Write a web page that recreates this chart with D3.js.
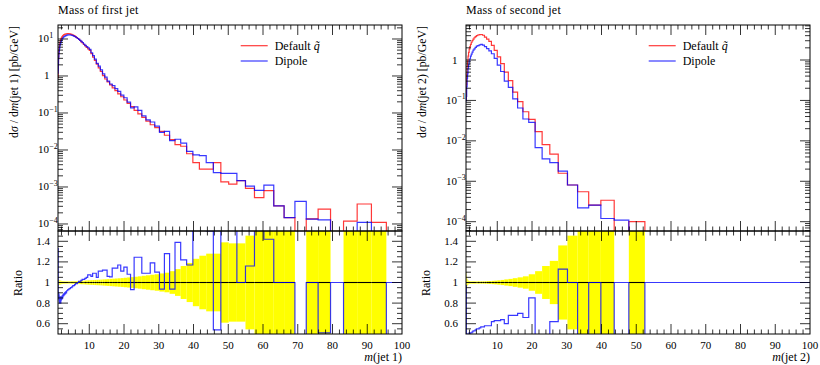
<!DOCTYPE html>
<html><head><meta charset="utf-8">
<script src="https://cdn.jsdelivr.net/npm/d3@7"></script>
<style>
body{margin:0;background:#fff}
</style>
</head><body>
<svg id="c" width="820" height="365" font-family="'Liberation Serif', 'DejaVu Serif', serif"></svg>
<script>
// ---------- DATA ----------
// jet 1 : 100 log bins 1..100 GeV ; jet 2 : 50 log bins 1..100 GeV
const jet1Bins = {n: 100, lo: 1, hi: 100};
const jet2Bins = {n: 50, lo: 1, hi: 100};

const jet1Default = [
 0.9,1.6,2.4,3.2,4.0,4.8,5.6,6.3,7.0,7.7,
 8.3,8.9,9.4,9.9,10.4,10.8,11.2,11.6,12.0,12.3,
 12.6,12.9,13.1,13.3,13.5,13.6,13.7,13.8,13.9,13.9,
 13.9,13.8,13.7,13.5,13.3,13.0,12.7,12.3,11.9,11.4,
 10.9,10.3,9.7,9.1,8.4,7.8,7.1,6.5,5.9,5.4,
 4.9,4.0,3.24,2.63,2.09,1.66,1.32,1.02,0.83,0.69,
 0.575,0.48,0.40,0.33,0.275,0.224,0.182,0.148,0.117,0.095,
 0.076,0.060,0.048,0.040,0.032,0.025,0.019,0.014,0.0126,0.0079,
 0.00457,0.00302,0.00302,0.00457,0.00138,0.0012,0.00148,0.000912,0.000513,0.000794,
 0.000309,0.000148,null,0.000138,0.000251,null,0.00012,0.000347,0.00011,null];

const jet1Dipole = [
 1.2,1.41,2.06,2.88,3.36,4.22,4.59,5.42,5.6,6.55,
 6.81,7.65,7.52,8.32,8.63,9.29,9.41,10.09,10.2,10.82,
 10.96,11.48,11.53,11.97,12.02,12.38,12.33,12.7,12.79,12.93,
 12.93,12.97,12.88,12.83,12.64,12.48,12.32,11.93,11.66,11.29,
 10.79,10.3,9.8,9.19,8.57,8.03,7.31,6.76,6.2,5.8,
 5.27,4.24,3.53,2.87,2.19,1.84,1.47,1.14,0.93,0.73,
 0.607,0.547,0.456,0.386,0.305,0.258,0.197,0.138,0.146,0.118,
 0.083,0.065,0.057,0.044,0.030,0.032,0.0178,0.0195,0.0154,0.0092,
 0.00733,0.00703,0.00457,0.00245,0.00234,0.00234,0.00148,0.00105,0.00081,0.00112,
 0.000309,0.000148,0.000407,0.000135,0.000129,null,null,0.00011,null,null];

const jet1Ratio = [
 1.33,0.88,0.86,0.90,0.84,0.88,0.82,0.86,0.80,0.85,
 0.82,0.86,0.80,0.84,0.83,0.86,0.84,0.87,0.85,0.88,
 0.87,0.89,0.88,0.90,0.89,0.91,0.90,0.92,0.92,0.93,
 0.93,0.94,0.94,0.95,0.95,0.96,0.97,0.97,0.98,0.99,
 0.99,1.00,1.01,1.01,1.02,1.03,1.03,1.04,1.05,1.075,
 1.075,1.06,1.09,1.09,1.05,1.11,1.11,1.12,1.12,1.06,
 1.055,1.14,1.14,1.17,1.11,1.15,1.08,0.93,1.245,1.245,
 1.09,1.09,1.19,1.10,0.935,1.28,0.935,1.39,1.22,1.17,
 1.6,2.3,1.5,0.54,1.68,1.9,1.0,1.16,1.6,1.42,
 1.0,1.0,0,1.0,0.51,1,0,0.32,0,1];

const jet1Err = [
 0.04,0.035,0.03,0.03,0.028,0.026,0.025,0.024,0.023,0.022,
 0.021,0.02,0.019,0.018,0.017,0.016,0.015,0.014,0.014,0.013,
 0.013,0.012,0.012,0.012,0.011,0.011,0.011,0.011,0.011,0.011,
 0.011,0.011,0.011,0.011,0.012,0.012,0.012,0.013,0.013,0.014,
 0.014,0.015,0.015,0.016,0.017,0.017,0.018,0.019,0.02,0.021,
 0.022,0.023,0.024,0.025,0.026,0.027,0.028,0.03,0.031,0.033,
 0.035,0.037,0.039,0.041,0.043,0.046,0.049,0.052,0.056,0.06,
 0.065,0.07,0.075,0.08,0.088,0.095,0.11,0.13,0.16,0.19,
 0.23,0.26,0.28,0.28,0.39,0.38,0.38,0.455,0.55,0.55,
 0.7,0.7,null,0.7,0.7,null,0.7,0.7,0.7,null];

const jet2Default = [
 0.1,0.25,0.45,0.7,0.95,1.25,1.55,1.85,2.15,2.45,
 2.75,3.0,3.3,3.55,3.8,4.0,4.15,4.25,4.27,4.1,
 3.7,3.3,2.9,2.3,1.74,1.19,0.81,0.50,0.31,0.16,
 0.093,0.0525,0.0339,0.017,0.0081,0.0047,0.00158,0.00081,0.00055,0.000257,
 0.000339,null,0.0001,null,null,null,null,null,null,null];

const jet2Dipole = [
 0.097,0.125,0.22,0.35,0.456,0.625,0.775,0.944,1.075,1.25,
 1.40,1.56,1.75,1.88,2.05,2.2,2.28,2.38,2.43,2.34,
 2.15,1.91,1.68,1.43,1.10,0.75,0.52,0.30,0.21,0.109,
 0.065,0.0347,0.0288,0.0068,0.0036,0.0029,0.00179,0.00081,0.00022,0.000257,
 0.00012,0.00011,null,null,null,null,null,null,null,null];

const jet2Ratio = [
 0.97,0.5,0.49,0.5,0.48,0.5,0.5,0.51,0.5,0.51,
 0.51,0.52,0.53,0.53,0.54,0.55,0.55,0.56,0.57,0.57,
 0.58,0.58,0.58,0.62,0.63,0.63,0.64,0.60,0.68,0.68,
 0.70,0.66,0.85,0.4,0.45,0.62,1.13,1.0,0.4,1.0,
 0.35,1,0,1,1,1,1,1,1,1];

const jet2Err = [
 0.1,0.07,0.05,0.035,0.025,0.02,0.016,0.014,0.013,0.012,
 0.011,0.011,0.011,0.011,0.011,0.011,0.011,0.011,0.011,0.011,
 0.012,0.013,0.014,0.016,0.018,0.021,0.025,0.03,0.035,0.042,
 0.05,0.06,0.08,0.11,0.16,0.21,0.36,0.455,0.55,0.7,
 0.7,null,0.7,null,null,null,null,null,null,null];

const xTickLabels = [10,20,30,40,50,60,70,80,90,100];
const ratioTickLabels = [0.6,0.8,1,1.2,1.4];
const legendLabels = ["Default", "Dipole"];
const seriesColors = ["#ff0000", "#0000ff"];

// ---------- DRAW ----------
const svg = d3.select("#c");
svg.append("rect").attr("width",820).attr("height",365).attr("fill","#fff");

function edgesOf(b){ return d3.range(b.n+1).map(i => b.lo*Math.pow(b.hi/b.lo, i/b.n)); }

const TOP = 25, MID = 231, BOT = 334;
const FONT = "'Liberation Serif', 'DejaVu Serif', serif";

function panel(cfg){
  const {x0, x1, title, jetNo, bins, def, dip, ratio, err, yLo, yHi, decades, id} = cfg;
  const edges = edgesOf(bins);
  const x = d3.scaleLinear().domain([1,100]).range([x0,x1]);
  const y = d3.scaleLog().domain([yLo,yHi]).range([MID,TOP]);
  const yr = d3.scaleLinear().domain([0.5,1.5]).range([BOT,MID]);
  const g = svg.append("g").attr("font-family", FONT).attr("fill","#000");
  const defs = svg.append("defs");
  defs.append("clipPath").attr("id","ct"+id).append("rect")
    .attr("x",x0).attr("y",TOP).attr("width",x1-x0).attr("height",MID-TOP);
  defs.append("clipPath").attr("id","cr"+id).append("rect")
    .attr("x",x0).attr("y",MID).attr("width",x1-x0).attr("height",BOT-MID);

  function stepPath(vals, ys, below){
    const pts = [];
    vals.forEach((v,i) => {
      const yy = (v===null || v<=0) ? below : ys(v);
      pts.push([x(edges[i]), yy],[x(edges[i+1]), yy]);
    });
    return d3.line()(pts);
  }

  const gr = g.append("g").attr("clip-path","url(#cr"+id+")");
  err.forEach((e,i) => {
    if(e===null) return;
    const ya = yr(1+e), yb = yr(1-e);
    gr.append("rect").attr("x",x(edges[i])).attr("width",x(edges[i+1])-x(edges[i]))
      .attr("y",ya).attr("height",yb-ya).attr("fill","#ffff00");
  });
  err.forEach((e,i) => {
    if(e===null) return;
    gr.append("line").attr("x1",x(edges[i])).attr("x2",x(edges[i+1]))
      .attr("y1",yr(1)).attr("y2",yr(1)).attr("stroke","#000").attr("stroke-width",1.1);
  });
  gr.append("path").attr("d", stepPath(ratio, yr, BOT+20))
    .attr("fill","none").attr("stroke",seriesColors[1]).attr("stroke-width",1.2).attr("stroke-opacity",0.78);

  const gt = g.append("g").attr("clip-path","url(#ct"+id+")");
  [def, dip].forEach((vals,si) => {
    gt.append("path").attr("d", stepPath(vals, y, MID+20))
      .attr("fill","none").attr("stroke",seriesColors[si]).attr("stroke-width",1.2).attr("stroke-opacity",0.78);
  });

  [[TOP,MID],[MID,BOT]].forEach(([a,b]) => {
    g.append("rect").attr("x",x0).attr("y",a).attr("width",x1-x0).attr("height",b-a)
      .attr("fill","none").attr("stroke","#000").attr("stroke-width",1);
  });

  const tk = g.append("g").attr("stroke","#000").attr("stroke-width",0.8);
  function vtick(px, ybase, len){ tk.append("line").attr("x1",px).attr("x2",px).attr("y1",ybase).attr("y2",ybase+len); }
  function htick(py, xbase, len){ tk.append("line").attr("y1",py).attr("y2",py).attr("x1",xbase).attr("x2",xbase+len); }

  d3.range(2,100,2).forEach(v => {
    const major = v % 10 === 0;
    const L = major ? 10 : 4.5;
    const px = x(v);
    vtick(px, TOP, L); vtick(px, MID, -L); vtick(px, MID, L); vtick(px, BOT, -L);
  });
  const [dLo, dHi] = decades;
  for(let d=dLo; d<=dHi; d++){
    for(let m=1; m<10; m++){
      const v = m*Math.pow(10,d);
      if(v<yLo || v>yHi) continue;
      const L = m===1 ? 10 : 5;
      htick(y(v), x0, L); htick(y(v), x1, -L);
    }
  }
  d3.range(11,30).forEach(k => {
    const v = k*0.05;
    const major = k % 4 === 0;
    const L = major ? 10 : 5;
    htick(yr(v), x0, L); htick(yr(v), x1, -L);
  });

  xTickLabels.forEach(v => {
    g.append("text").attr("x",x(v)).attr("y",349).attr("text-anchor","middle")
      .attr("font-size",11).text(v);
  });
  for(let d=dLo; d<=dHi; d++){
    const v = Math.pow(10,d);
    if(v<yLo || v>yHi) continue;
    const py = y(v)+3.5;
    if(d===0){
      g.append("text").attr("x",x0-8.5).attr("y",py).attr("text-anchor","end").attr("font-size",11).text("1");
    } else {
      g.append("text").attr("x",x0-9).attr("y",py).attr("text-anchor","end").attr("font-size",11).text("10");
      g.append("text").attr("x",x0-8.7).attr("y",py-4.5).attr("font-size",8)
        .text(d<0 ? "\u2212"+(-d) : String(d));
    }
  }
  ratioTickLabels.forEach(v => {
    g.append("text").attr("x",x0-8).attr("y",yr(v)+3.5).attr("text-anchor","end")
      .attr("font-size",11).text(String(v));
  });

  g.append("text").attr("x",x0).attr("y",14).attr("font-size",12).attr("letter-spacing",0.3).text(title);

  const yl = g.append("text").attr("transform",`translate(${x0-40},${TOP+1}) rotate(-90)`)
    .attr("text-anchor","end").attr("font-size",11.8);
  yl.append("tspan").text("d");
  yl.append("tspan").attr("font-style","italic").text("σ");
  yl.append("tspan").text(" / d");
  yl.append("tspan").attr("font-style","italic").text("m");
  yl.append("tspan").text(`(jet ${jetNo}) [pb/GeV]`);

  g.append("text").attr("transform",`translate(${x0-36},283) rotate(-90)`)
    .attr("text-anchor","middle").attr("font-size",12).text("Ratio");

  const xl = g.append("text").attr("x",x1).attr("y",361).attr("text-anchor","end").attr("font-size",12);
  xl.append("tspan").attr("font-style","italic").text("m");
  xl.append("tspan").text(`(jet ${jetNo})`);

  const lx = x0 + 182.7;
  legendLabels.forEach((lab,i) => {
    const ly = 45.7 + i*15.3;
    g.append("line").attr("x1",lx).attr("x2",lx+27).attr("y1",ly).attr("y2",ly)
      .attr("stroke",seriesColors[i]).attr("stroke-width",1.2).attr("stroke-opacity",0.78);
    const t = g.append("text").attr("x",lx+34).attr("y",ly+3.8).attr("font-size",12);
    t.append("tspan").text(lab);
    if(i===0){ t.append("tspan").text(" "); t.append("tspan").attr("font-style","italic").text("q\u0303"); }
  });
}

panel({id:1, x0:58, x1:402, title:"Mass of first jet", jetNo:1, bins:jet1Bins,
  def:jet1Default, dip:jet1Dipole, ratio:jet1Ratio, err:jet1Err,
  yLo:Math.pow(10,-4.19), yHi:Math.pow(10,1.378), decades:[-5,2]});
panel({id:2, x0:466, x1:810, title:"Mass of second jet", jetNo:2, bins:jet2Bins,
  def:jet2Default, dip:jet2Dipole, ratio:jet2Ratio, err:jet2Err,
  yLo:Math.pow(10,-4.23), yHi:Math.pow(10,0.866), decades:[-5,1]});
</script>
</body></html>
